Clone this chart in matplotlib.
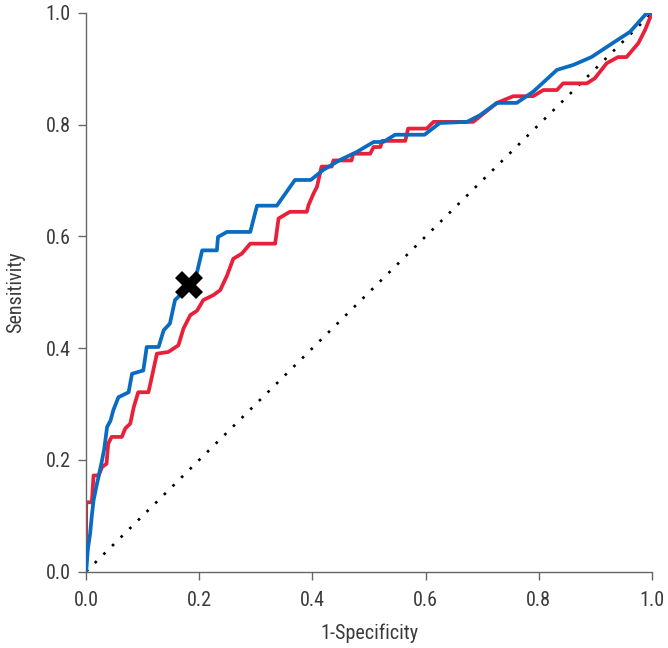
import matplotlib
matplotlib.use("Agg")
import matplotlib.pyplot as plt

plt.rcParams['font.family'] = ['Roboto Condensed', 'DejaVu Sans']

# ROC curve (1-specificity, sensitivity)
blue_x = [0, 0.003, 0.007, 0.010, 0.013, 0.019, 0.022, 0.028, 0.032, 0.037,
          0.043, 0.048, 0.057, 0.075, 0.081, 0.101, 0.107, 0.128, 0.137, 0.148,
          0.157, 0.166, 0.181, 0.196, 0.205, 0.231, 0.233, 0.249, 0.290, 0.302,
          0.337, 0.369, 0.397, 0.419, 0.449, 0.478, 0.508, 0.525, 0.546, 0.598,
          0.625, 0.673, 0.696, 0.726, 0.761, 0.790, 0.832, 0.861, 0.893, 0.932,
          0.961, 0.991, 1.0]
blue_y = [0, 0.040, 0.068, 0.100, 0.127, 0.157, 0.170, 0.199, 0.220, 0.259,
          0.270, 0.289, 0.312, 0.321, 0.354, 0.360, 0.402, 0.402, 0.432, 0.444,
          0.486, 0.495, 0.513, 0.536, 0.575, 0.575, 0.599, 0.608, 0.608, 0.655,
          0.655, 0.701, 0.701, 0.719, 0.737, 0.751, 0.769, 0.769, 0.782, 0.782,
          0.803, 0.805, 0.817, 0.839, 0.839, 0.859, 0.898, 0.907, 0.921, 0.947,
          0.966, 1.0, 1.0]

red_x = [0, 0, 0.010, 0.013, 0.022, 0.028, 0.036, 0.039, 0.045, 0.063,
         0.069, 0.078, 0.084, 0.092, 0.110, 0.116, 0.125, 0.145, 0.163, 0.172,
         0.184, 0.196, 0.207, 0.225, 0.237, 0.249, 0.260, 0.275, 0.290, 0.334,
         0.340, 0.360, 0.390, 0.393, 0.402, 0.408, 0.416, 0.434, 0.437, 0.469,
         0.472, 0.502, 0.508, 0.520, 0.523, 0.564, 0.569, 0.602, 0.614, 0.684,
         0.726, 0.755, 0.790, 0.808, 0.832, 0.843, 0.885, 0.899, 0.920, 0.940,
         0.955, 0.976, 0.988, 1.0]
red_y = [0, 0.124, 0.124, 0.172, 0.172, 0.187, 0.193, 0.229, 0.241, 0.241,
         0.256, 0.265, 0.294, 0.321, 0.321, 0.348, 0.390, 0.393, 0.405, 0.435,
         0.459, 0.467, 0.486, 0.495, 0.504, 0.530, 0.560, 0.569, 0.587, 0.587,
         0.632, 0.644, 0.644, 0.656, 0.677, 0.689, 0.725, 0.725, 0.736, 0.736,
         0.748, 0.748, 0.760, 0.760, 0.771, 0.771, 0.793, 0.793, 0.805, 0.805,
         0.839, 0.851, 0.851, 0.862, 0.862, 0.874, 0.874, 0.883, 0.910, 0.921,
         0.921, 0.946, 0.970, 1.0]

# cut-off point
cut_x = [0.181]
cut_y = [0.513]

ticks = [0.0, 0.2, 0.4, 0.6, 0.8, 1.0]

fig = plt.figure(figsize=(6.68, 6.48), dpi=100)
ax = fig.add_axes([0.129, 0.118, 0.847, 0.862])

ax.plot([0, 1], [0, 1], color='black', lw=1.9, linestyle=(0, (1, 3.6)), zorder=1)
ax.plot(red_x, red_y, color='#e8203a', lw=2.7, zorder=2)
ax.plot(blue_x, blue_y, color='#0a6bc0', lw=2.7, zorder=3)
ax.plot(cut_x, cut_y, marker='X', color='black', markersize=20,
        markeredgewidth=0, linestyle='none', zorder=4)

ax.set_xlim(0, 1)
ax.set_ylim(0, 1)
ax.set_xticks(ticks)
ax.set_yticks(ticks)
ax.set_xticklabels([f"{t:.1f}" for t in ticks])
ax.set_yticklabels([f"{t:.1f}" for t in ticks])

for s in ['top', 'right']:
    ax.spines[s].set_visible(False)
for s in ['left', 'bottom']:
    ax.spines[s].set_color('#666666')
    ax.spines[s].set_linewidth(1.0)
ax.tick_params(colors='#666666', labelcolor='#3a3a3a', labelsize=14.5,
               length=6, width=1.0, direction='out')
ax.tick_params(axis='x', pad=8)
ax.tick_params(axis='y', pad=5)

ax.set_xlabel('1-Specificity', fontsize=14.5, color='#3a3a3a', labelpad=10)
ax.set_ylabel('Sensitivity', fontsize=14.5, color='#3a3a3a', labelpad=15)

fig.savefig('out.png', dpi=100)
